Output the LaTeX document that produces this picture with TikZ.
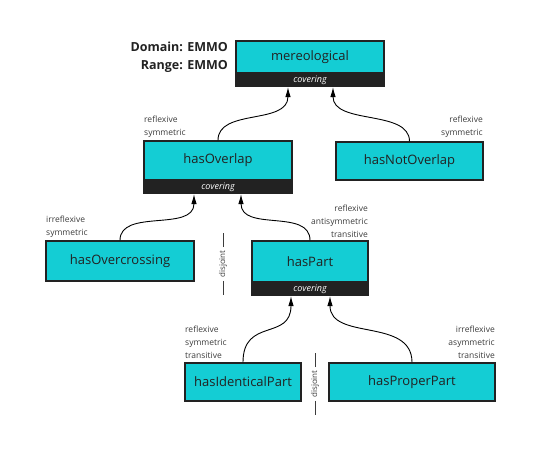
\documentclass[tikz,border=0pt]{standalone}
\usepackage{fontspec}
\setmainfont{Open Sans}
\usetikzlibrary{arrows.meta}
\definecolor{boxcyan}{RGB}{20,205,212}
\definecolor{boxline}{RGB}{34,34,34}
\definecolor{proptext}{RGB}{60,60,60}
\begin{document}
\begin{tikzpicture}[x=1pt,y=-1pt]
  \tikzset{rel box/.style={draw=boxline,line width=1.4pt,fill=boxcyan,
      inner sep=0pt,minimum width=#1,font=\fontsize{13}{15}\selectfont,
      text=boxline},
    cover band/.style={draw=boxline,line width=1.4pt,fill=boxline,
      inner sep=0pt,minimum width=#1,minimum height=12pt,anchor=north,
      text=white,font=\fontsize{9}{10}\selectfont\itshape},
    prop note/.style={inner sep=0pt,text=proptext,
      font=\fontsize{8.5}{13}\selectfont},
    disj note/.style={inner sep=0pt,rotate=90,text=proptext,
      font=\fontsize{8}{9}\selectfont},
    sub arrow/.style={line width=0.9pt,draw=black,
      -{Latex[length=10pt,width=5.5pt]}}
  }
  \useasboundingbox (0,0) rectangle (542,461);

  % relation boxes
  \node [rel box=148pt,minimum height=32pt] (mereo) at (310,57) {mereological};
  \node [cover band=148pt] (mereoC) at (mereo.south) {covering};
  \node [rel box=148pt,minimum height=39pt] (overlap) at (218,160.5) {hasOverlap};
  \node [cover band=148pt] (overlapC) at (overlap.south) {covering};
  \node [rel box=147pt,minimum height=38pt] (notOverlap) at (409.5,161) {hasNotOverlap};
  \node [rel box=148pt,minimum height=40pt] (overcross) at (120,261) {hasOvercrossing};
  \node [rel box=116pt,minimum height=41pt] (part) at (310,261.5) {hasPart};
  \node [cover band=116pt] (partC) at (part.south) {covering};
  \node [rel box=116pt,minimum height=38pt] (identPart) at (243,382) {hasIdenticalPart};
  \node [rel box=166pt,minimum height=38pt] (properPart) at (412,382) {hasProperPart};

  % domain and range
  \node [inner sep=0pt,anchor=east,align=right,font=\fontsize{12.5}{18}\selectfont\bfseries,
    text=boxline] (domRange) at (228,57) {Domain: EMMO\\Range: EMMO};

  % characteristics
  \node [prop note,anchor=south west,align=left] (overlapP) at (144,138) {reflexive\\symmetric};
  \node [prop note,anchor=south east,align=right] (notOverlapP) at (483,138) {reflexive\\symmetric};
  \node [prop note,anchor=south west,align=left] (overcrossP) at (46,238) {irreflexive\\symmetric};
  \node [prop note,anchor=south east,align=right] (partP) at (368,238) {reflexive\\antisymmetric\\transitive};
  \node [prop note,anchor=south west,align=left] (identPartP) at (185,359) {reflexive\\symmetric\\transitive};
  \node [prop note,anchor=south east,align=right] (properPartP) at (495,359) {irreflexive\\asymmetric\\transitive};

  % disjointness
  \node [disj note] (disjA) at (223,264) {disjoint};
  \draw [proptext,line width=0.7pt] ([yshift=3pt]disjA.east) -- ++(0,-14);
  \draw [proptext,line width=0.7pt] ([yshift=-3pt]disjA.west) -- ++(0,14);
  \node [disj note] (disjB) at (315,384) {disjoint};
  \draw [proptext,line width=0.7pt] ([yshift=3pt]disjB.east) -- ++(0,-14);
  \draw [proptext,line width=0.7pt] ([yshift=-3pt]disjB.west) -- ++(0,14);

  % subrelations
  \draw [sub arrow] (overlap.north) .. controls +(0,-32) and +(0,38) .. ([xshift=-22pt]mereoC.south);
  \draw [sub arrow] (notOverlap.north) .. controls +(0,-32) and +(0,38) .. ([xshift=23pt]mereoC.south);
  \draw [sub arrow] (overcross.north) .. controls +(0,-32) and +(0,38) .. ([xshift=-24pt]overlapC.south);
  \draw [sub arrow] (part.north) .. controls +(0,-32) and +(0,38) .. ([xshift=23pt]overlapC.south);
  \draw [sub arrow] (identPart.north) .. controls +(0,-45) and +(0,45) .. ([xshift=-19pt]partC.south);
  \draw [sub arrow] (properPart.north) .. controls +(0,-45) and +(0,45) .. ([xshift=20pt]partC.south);
\end{tikzpicture}
\end{document}
